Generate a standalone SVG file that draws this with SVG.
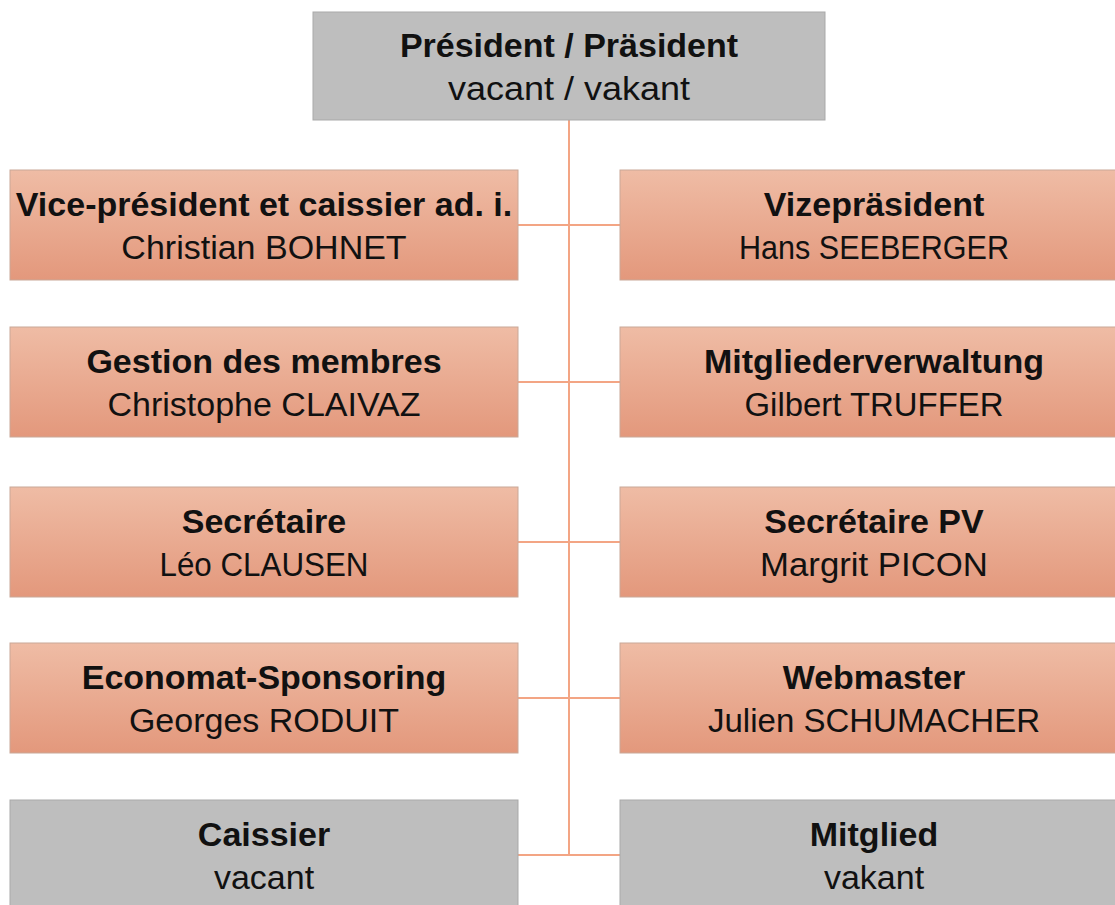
<svg xmlns="http://www.w3.org/2000/svg" width="1115" height="905" viewBox="0 0 1115 905">
<defs>
<linearGradient id="sal" x1="0" y1="0" x2="0" y2="1">
<stop offset="0" stop-color="#efbca5"/>
<stop offset="1" stop-color="#e3987c"/>
</linearGradient>
<style>
.s{fill:url(#sal);stroke:#c9a898;stroke-width:1}
.g{fill:#bebebe;stroke:#a9a9a9;stroke-width:1}
.t{font-family:"Liberation Sans",Arial,sans-serif;font-size:34px;font-weight:bold;fill:#111;text-anchor:middle}
.n{font-family:"Liberation Sans",Arial,sans-serif;font-size:34px;fill:#111;text-anchor:middle}
.c{stroke:#f3a584;stroke-width:2;fill:none}
</style>
</defs>
<rect width="1115" height="905" fill="#ffffff"/>
<g id="connectors">
<path class="c" d="M569 120V855"/>
<path class="c" d="M518 225H620M518 382H620M518 542H620M518 698H620M518 855H620"/>
</g>
<g id="president"><rect class="g" x="313" y="12" width="512" height="108"/><text class="t" x="569" y="57">Président / Präsident</text><text class="n" x="569" y="100" textLength="242" lengthAdjust="spacingAndGlyphs">vacant / vakant</text></g>
<g id="vice-president"><rect class="s" x="10" y="170" width="508" height="110"/><text class="t" x="264" y="216">Vice-président et caissier ad. i.</text><text class="n" x="264" y="259">Christian BOHNET</text></g>
<g id="vizepraesident"><rect class="s" x="620" y="170" width="510" height="110"/><text class="t" x="874" y="216">Vizepräsident</text><text class="n" x="874" y="259" textLength="270" lengthAdjust="spacingAndGlyphs">Hans SEEBERGER</text></g>
<g id="gestion"><rect class="s" x="10" y="327" width="508" height="110"/><text class="t" x="264" y="373">Gestion des membres</text><text class="n" x="264" y="416">Christophe CLAIVAZ</text></g>
<g id="mitgliederverwaltung"><rect class="s" x="620" y="327" width="510" height="110"/><text class="t" x="874" y="373">Mitgliederverwaltung</text><text class="n" x="874" y="416" textLength="259" lengthAdjust="spacingAndGlyphs">Gilbert TRUFFER</text></g>
<g id="secretaire"><rect class="s" x="10" y="487" width="508" height="110"/><text class="t" x="264" y="533">Secrétaire</text><text class="n" x="264" y="576" textLength="209" lengthAdjust="spacingAndGlyphs">Léo CLAUSEN</text></g>
<g id="secretaire-pv"><rect class="s" x="620" y="487" width="510" height="110"/><text class="t" x="874" y="533">Secrétaire PV</text><text class="n" x="874" y="576" textLength="228" lengthAdjust="spacingAndGlyphs">Margrit PICON</text></g>
<g id="economat"><rect class="s" x="10" y="643" width="508" height="110"/><text class="t" x="264" y="689">Economat-Sponsoring</text><text class="n" x="264" y="732">Georges RODUIT</text></g>
<g id="webmaster"><rect class="s" x="620" y="643" width="510" height="110"/><text class="t" x="874" y="689">Webmaster</text><text class="n" x="874" y="732" textLength="332" lengthAdjust="spacingAndGlyphs">Julien SCHUMACHER</text></g>
<g id="caissier"><rect class="g" x="10" y="800" width="508" height="115"/><text class="t" x="264" y="846">Caissier</text><text class="n" x="264" y="889">vacant</text></g>
<g id="mitglied"><rect class="g" x="620" y="800" width="510" height="115"/><text class="t" x="874" y="846">Mitglied</text><text class="n" x="874" y="889">vakant</text></g>
</svg>
